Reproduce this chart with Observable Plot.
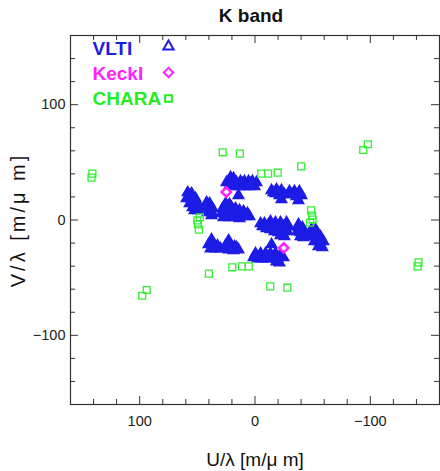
<!DOCTYPE html>
<html><head><meta charset="utf-8">
<script src="https://cdn.jsdelivr.net/npm/d3@7"></script>
<script src="https://cdn.jsdelivr.net/npm/@observablehq/plot@0.6"></script>
<style>
html,body{margin:0;padding:0;background:#fff;}
#wrap{position:relative;width:440px;height:471px;}
#edge{position:absolute;left:1px;top:34px;width:1.5px;height:370px;background:#333;}
</style></head><body><div id="wrap"><div id="edge"></div></div>
<script>
// ---- data (U/λ, V/λ in m/µm) ----
const titleText = "K band";
const xLabel = "U/λ [m/μ m]";
const yLabel = "V/λ [m/μ m]";
const legendLabels = ["VLTI", "KeckI", "CHARA"];
const legendColors = ["#1c1ce6", "#ff22ff", "#22ee22"];
const majorTicks = [-100, 0, 100];
const minorTicks = [-160, -140, -120, -80, -60, -40, -20, 20, 40, 60, 80, 120, 140, 160];

const vltiA = [[58.4,23.9],[55.0,23.0],[59.3,18.7],[55.8,18.7],[51.5,18.7],[56.7,14.3],[53.2,14.3],[49.8,14.3],[54.1,10.9],[50.6,10.9],[48.9,8.3],[52.4,8.3],[56.7,21.3],[53.2,17.0],[51.5,12.6]];
const vltiB = [[42.0,15.2],[39.4,14.3],[42.9,10.9],[39.4,10.9],[36.8,10.0],[41.1,6.5],[37.7,6.5],[37.7,3.9],[41.1,12.6],[38.5,8.3]];
const vltiC = [[25.5,14.3],[22.1,13.5],[28.1,10.0],[24.7,10.0],[20.3,10.9],[16.9,10.0],[13.4,8.3],[10.0,7.4],[6.5,5.7],[4.8,3.0],[29.0,5.7],[24.7,5.7],[20.3,5.7],[16.0,5.7],[11.7,3.9],[8.2,3.0],[27.3,2.2],[22.1,2.2],[17.7,2.2],[13.4,1.3],[23.8,11.7],[18.6,8.3],[14.3,6.5],[9.1,5.7],[26.4,7.4],[22.1,8.3]];
const vltiUpper = [[24.7,32.6],[21.2,37.0],[18.6,36.1],[16.0,32.6],[12.6,33.5],[9.1,33.5],[5.6,33.5],[2.2,33.5],[-1.3,32.6],[22.1,30.0],[17.7,29.1],[13.4,29.1],[9.1,29.1],[4.8,29.1],[0.4,29.1],[10.8,31.7],[3.9,31.7],[19.5,33.5],[14.3,21.3]];
const vltiLowerLeft = [[37.7,-17.0],[40.3,-21.3],[35.9,-20.4],[32.5,-22.2],[38.5,-24.8],[34.2,-24.8],[29.9,-24.8],[22.9,-17.8],[25.5,-22.2],[21.2,-21.3],[17.7,-23.0],[22.9,-25.7],[18.6,-26.5],[14.3,-25.7],[35.1,-23.0],[20.3,-23.9],[16.0,-23.9]];
const vltiAConj = [[-58.4,-23.9],[-55.0,-23.0],[-59.3,-18.7],[-55.8,-18.7],[-51.5,-18.7],[-56.7,-14.3],[-53.2,-14.3],[-49.8,-14.3],[-54.1,-10.9],[-50.6,-10.9],[-48.9,-8.3],[-52.4,-8.3],[-56.7,-21.3],[-53.2,-17.0],[-51.5,-12.6]];
const vltiBConj = [[-42.0,-15.2],[-39.4,-14.3],[-42.9,-10.9],[-39.4,-10.9],[-36.8,-10.0],[-41.1,-6.5],[-37.7,-6.5],[-37.7,-3.9],[-41.1,-12.6],[-38.5,-8.3]];
const vltiCConj = [[-25.5,-14.3],[-22.1,-13.5],[-28.1,-10.0],[-24.7,-10.0],[-20.3,-10.9],[-16.9,-10.0],[-13.4,-8.3],[-10.0,-7.4],[-6.5,-5.7],[-4.8,-3.0],[-29.0,-5.7],[-24.7,-5.7],[-20.3,-5.7],[-16.0,-5.7],[-11.7,-3.9],[-8.2,-3.0],[-27.3,-2.2],[-22.1,-2.2],[-17.7,-2.2],[-13.4,-1.3],[-23.8,-11.7],[-18.6,-8.3],[-14.3,-6.5],[-9.1,-5.7],[-26.4,-7.4],[-22.1,-8.3]];
const vltiUpperConj = [[-24.7,-32.6],[-21.2,-37.0],[-18.6,-36.1],[-16.0,-32.6],[-12.6,-33.5],[-9.1,-33.5],[-5.6,-33.5],[-2.2,-33.5],[1.3,-32.6],[-22.1,-30.0],[-17.7,-29.1],[-13.4,-29.1],[-9.1,-29.1],[-4.8,-29.1],[-0.4,-29.1],[-10.8,-31.7],[-3.9,-31.7],[-19.5,-33.5],[-14.3,-21.3]];
const vltiLowerLeftConj = [[-37.7,17.0],[-40.3,21.3],[-35.9,20.4],[-32.5,22.2],[-38.5,24.8],[-34.2,24.8],[-29.9,24.8],[-22.9,17.8],[-25.5,22.2],[-21.2,21.3],[-17.7,23.0],[-22.9,25.7],[-18.6,26.5],[-14.3,25.7],[-35.1,23.0],[-20.3,23.9],[-16.0,23.9]];

const keck = [[24.9,24.2],[-24.9,-24.2]];

const chara = [[141.0,40.2],[141.8,36.7],[93.9,-60.7],[97.8,-65.7],[28.0,58.7],[13.2,57.6],[-5.4,40.2],[-11.4,40.2],[-19.7,41.0],[-40.0,46.5],[47.8,2.4],[50.0,-0.4],[49.5,-3.9],[48.7,-8.3],
  [-141.0,-40.2],[-141.8,-36.7],[-93.9,60.7],[-97.8,65.7],[-28.0,-58.7],[-13.2,-57.6],[5.4,-40.2],[11.4,-40.2],[19.7,-41.0],[40.0,-46.5],[-47.8,-2.4],[-50.0,0.4],[-49.5,3.9],[-48.7,8.3]];

const vlti = [].concat(vltiA, vltiB, vltiC, vltiUpper, vltiLowerLeft, vltiAConj, vltiBConj, vltiCConj, vltiUpperConj, vltiLowerLeftConj);

// ---- layout ----
const W = 440, H = 471, ML = 70, MR = 1, MT = 35, MB = 67;
const FW = W - ML - MR, FH = H - MT - MB;
const axisColor = "#333";
const symbols = ["triangle", "diamond2", "square"];

const legendMarks = legendLabels.flatMap((lab, i) => [
  Plot.text([lab], {frameAnchor: "top-left", dx: 22, dy: 13 + 25 * i, text: d => d, fill: legendColors[i],
    fontSize: 19, fontWeight: "bold", textAnchor: "start", lineAnchor: "middle"}),
  Plot.dot([0], {frameAnchor: "top-left", dx: 98, dy: 11 + 26 * i, symbol: symbols[i], r: i === 1 ? 4.2 : 3.8,
    stroke: legendColors[i], strokeWidth: 2, fill: "none"})
]);

const chart = Plot.plot({
  width: W, height: H,
  marginLeft: ML, marginRight: MR, marginTop: MT, marginBottom: MB,
  style: {fontFamily: "'Liberation Sans', Arial, sans-serif", background: "white", color: "#222"},
  x: {domain: [160, -160], axis: null},
  y: {domain: [-160, 160], axis: null},
  marks: [
    Plot.axisX({ticks: majorTicks, tickSize: 0, tickPadding: 11, fontSize: 14.5, label: null, anchor: "bottom"}),
    Plot.axisY({ticks: majorTicks, tickSize: 0, tickPadding: 5, fontSize: 14.5, label: null, anchor: "left"}),
    // inward ticks on all sides
    Plot.tickX(minorTicks, {x: d => d, insetTop: FH - 5, stroke: axisColor}),
    Plot.tickX(minorTicks, {x: d => d, insetBottom: FH - 5, stroke: axisColor}),
    Plot.tickX(majorTicks, {x: d => d, insetTop: FH - 8, stroke: axisColor}),
    Plot.tickX(majorTicks, {x: d => d, insetBottom: FH - 8, stroke: axisColor}),
    Plot.tickY(minorTicks, {y: d => d, insetRight: FW - 5, stroke: axisColor}),
    Plot.tickY(minorTicks, {y: d => d, insetLeft: FW - 5, stroke: axisColor}),
    Plot.tickY(majorTicks, {y: d => d, insetRight: FW - 8, stroke: axisColor}),
    Plot.tickY(majorTicks, {y: d => d, insetLeft: FW - 8, stroke: axisColor}),
    Plot.frame({stroke: axisColor, strokeWidth: 1.2}),
    // data
    Plot.dot(vlti, {x: d => d[0], y: d => d[1], symbol: "triangle", r: 3.9, fill: legendColors[0], stroke: legendColors[0], strokeWidth: 1.5}),
    Plot.dot(keck, {x: d => d[0], y: d => d[1], symbol: "diamond2", r: 4.2, fill: "none", stroke: legendColors[1], strokeWidth: 2.5}),
    Plot.dot(chara, {x: d => d[0], y: d => d[1], symbol: "square", r: 3.9, fill: "none", stroke: "#33ee33", strokeWidth: 1.3}),
    // legend
    ...legendMarks,
    // title and axis labels
    Plot.text([titleText], {frameAnchor: "top", dx: -4, dy: -20, text: d => d, fontSize: 19, fontWeight: "bold", fill: "#111", lineAnchor: "middle"}),
    Plot.text([xLabel], {frameAnchor: "bottom", dy: 55, text: d => d, fontSize: 19, fill: "#111", lineAnchor: "middle"}),
    Plot.text([yLabel], {frameAnchor: "left", dx: -52, text: d => d, rotate: -90, fontSize: 20, fill: "#111", textAnchor: "middle", lineAnchor: "middle"})
  ]
});
document.getElementById("wrap").appendChild(chart);
chart.style.position = "absolute";
chart.style.left = "0";
chart.style.top = "0";
// the reference's vertical label is set wider than the horizontal one
chart.querySelectorAll("text").forEach(t => { if (t.textContent === yLabel) t.setAttribute("letter-spacing", "3"); });
</script></body></html>
